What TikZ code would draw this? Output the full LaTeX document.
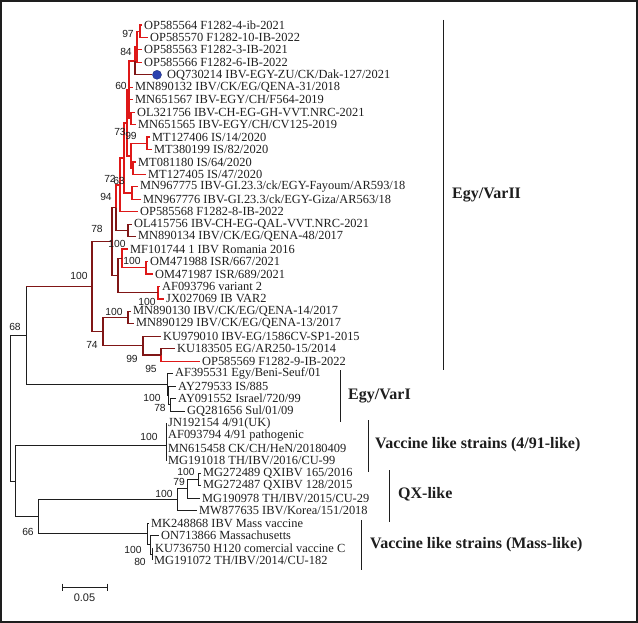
\documentclass[tikz,border=0pt]{standalone}
\usepackage{fontspec}
\setmainfont{Liberation Serif}
\newfontfamily\bsfont{Liberation Sans}
\usetikzlibrary{positioning}

\definecolor{drk}{RGB}{128,22,22}
\definecolor{brt}{RGB}{222,24,24}
\definecolor{blk}{RGB}{30,30,30}
\definecolor{dotblue}{RGB}{44,66,176}

\newcommand{\rw}[1]{12.55+12.45*#1}

\tikzset{
  leaf/.style={anchor=west, inner xsep=2pt, inner ysep=0pt, text=blk,
    font=\fontsize{12.4}{12.4}\selectfont},
  bs/.style={inner sep=0pt, text=blk, font={\bsfont\fontsize{10.3}{10.3}\selectfont}},
  clade/.style={anchor=west, inner sep=1pt, text=blk,
    font={\fontsize{16}{16}\selectfont\bfseries}},
  dot/.style={circle, fill=dotblue, draw=dotblue!70!black, line width=0.4pt,
    minimum size=9pt, inner sep=0pt},
  brb/.style={draw=blk, line width=0.8pt},
  drb/.style={draw=drk, line width=1.2pt},
  rdb/.style={draw=brt, line width=1.2pt},
  thk/.style={draw=brt, line width=2pt},
  cbar/.style={draw=blk, line width=0.9pt},
}

\begin{document}
\begin{tikzpicture}[x=1pt, y=-1pt]
\useasboundingbox (0,0) rectangle (638,623);
\draw[blk, line width=1.6pt] (0.8,0.8) rectangle (637.2,622.2);

% leaves
\node[leaf] (t1) at (142,{\rw{1}}) {OP585564 F1282-4-ib-2021};
\node[leaf] (t2) at (148,{\rw{2}}) {OP585570 F1282-10-IB-2022};
\node[leaf] (t3) at (142,{\rw{3}}) {OP585563 F1282-3-IB-2021};
\node[leaf] (t4) at (142,{\rw{4}}) {OP585566 F1282-6-IB-2022};
\node[leaf] (t5) at (165,{\rw{5}}) {OQ730214 IBV-EGY-ZU/CK/Dak-127/2021};
\node[dot]  (d5) at (157,{\rw{5}}) {};
\node[leaf] (t6) at (133,{\rw{6}}) {MN890132 IBV/CK/EG/QENA-31/2018};
\node[leaf] (t7) at (133,{\rw{7}}) {MN651567 IBV-EGY/CH/F564-2019};
\node[leaf] (t8) at (135,{\rw{8}}) {OL321756 IBV-CH-EG-GH-VVT.NRC-2021};
\node[leaf] (t9) at (136,{\rw{9}}) {MN651565 IBV-EGY/CH/CV125-2019};
\node[leaf] (t10) at (150,{\rw{10}}) {MT127406 IS/14/2020};
\node[leaf] (t11) at (152,{\rw{11}}) {MT380199 IS/82/2020};
\node[leaf] (t12) at (136,{\rw{12}}) {MT081180 IS/64/2020};
\node[leaf] (t13) at (146,{\rw{13}}) {MT127405 IS/47/2020};
\node[leaf] (t14) at (138,{\rw{14}}) {MN967775 IBV-GI.23.3/ck/EGY-Fayoum/AR593/18};
\node[leaf] (t15) at (141,{\rw{15}}) {MN967776 IBV-GI.23.3/ck/EGY-Giza/AR563/18};
\node[leaf] (t16) at (138,{\rw{16}}) {OP585568 F1282-8-IB-2022};
\node[leaf] (t17) at (132,{\rw{17}}) {OL415756 IBV-CH-EG-QAL-VVT.NRC-2021};
\node[leaf] (t18) at (136,{\rw{18}}) {MN890134 IBV/CK/EG/QENA-48/2017};
\node[leaf] (t19) at (128,{\rw{19}}) {MF101744 1 IBV Romania 2016};
\node[leaf] (t20) at (148,{\rw{20}}) {OM471988 ISR/667/2021};
\node[leaf] (t21) at (153,{\rw{21}}) {OM471987 ISR/689/2021};
\node[leaf] (t22) at (160,{\rw{22}}) {AF093796 variant 2};
\node[leaf] (t23) at (164,{\rw{23}}) {JX027069 IB VAR2};
\node[leaf] (t24) at (131,{\rw{24}}) {MN890130 IBV/CK/EG/QENA-14/2017};
\node[leaf] (t25) at (134,{\rw{25}}) {MN890129 IBV/CK/EG/QENA-13/2017};
\node[leaf] (t26) at (161,{\rw{26}}) {KU979010 IBV-EG/1586CV-SP1-2015};
\node[leaf] (t27) at (175,{\rw{27}}) {KU183505 EG/AR250-15/2014};
\node[leaf] (t28) at (200,{\rw{28}}) {OP585569 F1282-9-IB-2022};
\node[leaf] (t29) at (173,{\rw{29}}) {AF395531 Egy/Beni-Seuf/01};
\node[leaf] (t30) at (176,{\rw{30}}) {AY279533 IS/885};
\node[leaf] (t31) at (176,{\rw{31}}) {AY091552 Israel/720/99};
\node[leaf] (t32) at (185,{\rw{32}}) {GQ281656 Sul/01/09};
\node[leaf] (t33) at (166,{\rw{33}}) {JN192154 4/91(UK)};
\node[leaf] (t34) at (166,{\rw{34}}) {AF093794 4/91 pathogenic};
\node[leaf] (t35) at (166,{\rw{35}}) {MN615458 CK/CH/HeN/20180409};
\node[leaf] (t36) at (166,{\rw{36}}) {MG191018 TH/IBV/2016/CU-99};
\node[leaf] (t37) at (201,{\rw{37}}) {MG272489 QXIBV 165/2016};
\node[leaf] (t38) at (201,{\rw{38}}) {MG272487 QXIBV 128/2015};
\node[leaf] (t39) at (200,{\rw{39}}) {MG190978 TH/IBV/2015/CU-29};
\node[leaf] (t40) at (197,{\rw{40}}) {MW877635 IBV/Korea/151/2018};
\node[leaf] (t41) at (149,{\rw{41}}) {MK248868 IBV Mass vaccine};
\node[leaf] (t42) at (159,{\rw{42}}) {ON713866 Massachusetts};
\node[leaf] (t43) at (153,{\rw{43}}) {KU736750 H120 comercial vaccine C};
\node[leaf] (t44) at (152,{\rw{44}}) {MG191072 TH/IBV/2014/CU-182};

% internal nodes
\coordinate (n97) at (140,{\rw{1.5}});
\coordinate (n84) at (137,{\rw{2.75}});
\coordinate (ntop) at (135,{\rw{3.875}});
\coordinate (nol32) at (131,{\rw{8.5}});
\coordinate (n60) at (129,{\rw{6.1875}});
\coordinate (nmt12) at (147,{\rw{10.5}});
\coordinate (nmt08) at (133,{\rw{12.5}});
\coordinate (nmt) at (131,{\rw{11.5}});
\coordinate (n73) at (127,{\rw{8.84}});
\coordinate (nmn967) at (132,{\rw{14.5}});
\coordinate (n63) at (124,{\rw{11.67}});
\coordinate (n72) at (120,{\rw{13.835}});
\coordinate (nol) at (128,{\rw{17.5}});
\coordinate (n94) at (116,{\rw{15.67}});
\coordinate (nom) at (146,{\rw{20.5}});
\coordinate (nmf) at (122,{\rw{19.75}});
\coordinate (naf) at (158,{\rw{22.5}});
\coordinate (nc) at (118,{\rw{21.125}});
\coordinate (n78) at (112,{\rw{18.4}});
\coordinate (nmn130) at (128,{\rw{24.5}});
\coordinate (n95) at (161,{\rw{27.5}});
\coordinate (n99) at (143,{\rw{26.75}});
\coordinate (n74) at (103,{\rw{25.625}});
\coordinate (nvar2) at (92,{\rw{22.01}});
\coordinate (nv2) at (170,{\rw{31.5}});
\coordinate (nv1) at (168,{\rw{30.75}});
\coordinate (nvar1) at (167,{\rw{29.875}});
\coordinate (n68) at (26,{\rw{25.94}});
\coordinate (n491) at (166,{\rw{34.8}});
\coordinate (nq2) at (198,{\rw{37.5}});
\coordinate (nq1) at (187,{\rw{38.25}});
\coordinate (nqx) at (177,{\rw{39.125}});
\coordinate (nm2) at (152,{\rw{43.5}});
\coordinate (nm1) at (150,{\rw{42.75}});
\coordinate (nmass) at (147,{\rw{41.875}});
\coordinate (n66) at (38,{\rw{40.5}});
\coordinate (nb) at (15,{\rw{37.65}});
\coordinate (root) at (10,{\rw{31.8}});

% branches
\foreach \p/\c in {n97/t1.west, n97/t2.west, n84/n97, n84/t3.west, n84/t4.west,
    ntop/n84, n60/t6.west, n60/t7.west, nol32/t8.west, nol32/t9.west,
    nmt12/t10.west, nmt12/t11.west, nmt08/t12.west, nmt08/t13.west,
    nmt/nmt12, nmt/nmt08, nmn967/t14.west, nmn967/t15.west, n72/t16.west,
    nmf/t19.west, nmf/nom, nom/t20.west, nom/t21.west,
    naf/t22.west, naf/t23.west, n95/t28.west}
  \draw[rdb] (\p) |- (\c);
\foreach \p/\c in {n60/ntop, n60/nol32, n73/n60, n73/nmt, n63/n73, n63/nmn967,
    n72/n63, n94/n72}
  \draw[thk] (\p) |- (\c);
\foreach \p/\c in {ntop/d5.west, n94/nol, nol/t17.west, nol/t18.west,
    n78/n94, n78/nc, nc/nmf, nc/naf, nvar2/n78, nvar2/n74,
    n74/nmn130, n74/n99, nmn130/t24.west, nmn130/t25.west,
    n99/t26.west, n99/n95, n95/t27.west}
  \draw[drb] (\p) |- (\c);
\foreach \p/\c in {root/n68, root/nb, n68/nvar1, nvar1/t29.west, nvar1/nv1,
    nv1/t30.west, nv1/nv2, nv2/t31.west, nv2/t32.west, nb/n491, nb/n66,
    n66/nqx, n66/nmass, nqx/nq1, nqx/t40.west, nq1/nq2, nq1/t39.west,
    nq2/t37.west, nq2/t38.west, nmass/t41.west, nmass/nm1,
    nm1/t42.west, nm1/nm2, nm2/t43.west, nm2/t44.west}
  \draw[brb] (\p) |- (\c);
\draw[brb] (n68) -- (n68 |- nvar2);
\draw[drb] (n68 |- nvar2) -- (nvar2);
\draw[brb] (t33.west) -- (t36.west);

% bootstrap values
\node[bs] (b97) at (128,34) {97};
\node[bs] (b84) at (126,52) {84};
\node[bs] (b60) at (121,86) {60};
\node[bs] (b73) at (120,132) {73};
\node[bs] (b99a) at (131,136) {99};
\node[bs] (b72) at (110,179) {72};
\node[bs] (b63) at (119,181) {63};
\node[bs] (b94) at (106,197) {94};
\node[bs] (b78) at (97,229) {78};
\node[bs] (b100a) at (117,244) {100};
\node[bs] (b100b) at (132,261) {100};
\node[bs] (b100c) at (79,276) {100};
\node[bs] (b100d) at (147,302) {100};
\node[bs] (b100e) at (114,312) {100};
\node[bs] (b74) at (92,345) {74};
\node[bs] (b99b) at (132,359) {99};
\node[bs] (b95) at (151,369) {95};
\node[bs] (b68) at (15,327) {68};
\node[bs] (b100f) at (152,398) {100};
\node[bs] (b78b) at (160,408) {78};
\node[bs] (b100g) at (149,437) {100};
\node[bs] (b100h) at (186,472) {100};
\node[bs] (b79) at (179,482) {79};
\node[bs] (b100i) at (164,494) {100};
\node[bs] (b66) at (28,532) {66};
\node[bs] (b100j) at (133,550) {100};
\node[bs] (b80) at (140,562) {80};

% scale bar
\coordinate (s0) at (62,587);
\coordinate (s1) at (107,587);
\draw[brb] (s0) -- (s1);
\draw[brb] ([yshift=3.5pt]s0) -- ([yshift=-3.5pt]s0);
\draw[brb] ([yshift=3.5pt]s1) -- ([yshift=-3.5pt]s1);
\node[bs, font={\bsfont\fontsize{11}{11}\selectfont}] (sl) at (84.5,598) {0.05};

% clades
\coordinate (c2a) at (443,20);
\coordinate (c2b) at (443,370);
\coordinate (c2m) at (443,195);
\draw[cbar] (c2a) -- (c2b);
\node[clade] (l2) [right=8pt of c2m] {Egy/VarII};

\coordinate (c1a) at (340,370);
\coordinate (c1b) at (340,422);
\coordinate (c1m) at (340,396);
\draw[cbar] (c1a) -- (c1b);
\node[clade] (l1) [right=7pt of c1m] {Egy/VarI};

\coordinate (c4a) at (368,420);
\coordinate (c4b) at (368,472);
\coordinate (c4m) at (368,445);
\draw[cbar] (c4a) -- (c4b);
\node[clade] (l4) [right=6pt of c4m] {Vaccine like strains (4/91-like)};

\coordinate (cqa) at (389,470);
\coordinate (cqb) at (389,522);
\coordinate (cqm) at (389,494);
\draw[cbar] (cqa) -- (cqb);
\node[clade] (lq) [right=8pt of cqm] {QX-like};

\coordinate (cma) at (361,520);
\coordinate (cmb) at (361,570);
\coordinate (cmm) at (361,545);
\draw[cbar] (cma) -- (cmb);
\node[clade] (lm) [right=8pt of cmm] {Vaccine like strains (Mass-like)};
\end{tikzpicture}
\end{document}
